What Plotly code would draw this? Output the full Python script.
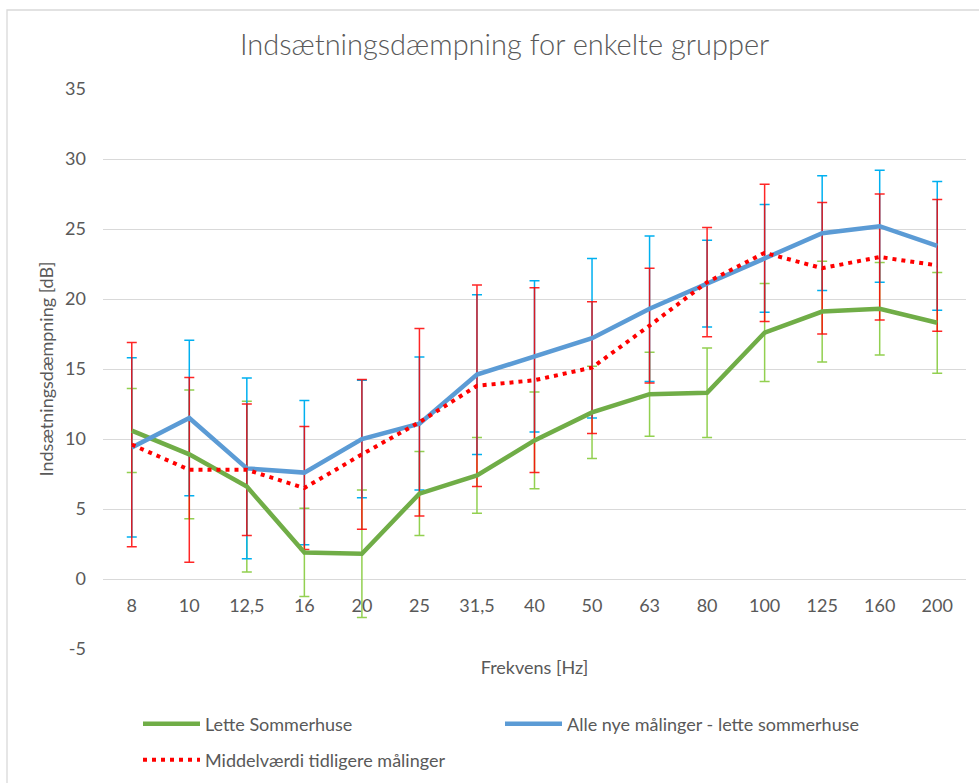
import plotly.graph_objects as go

# Frequency bands (category labels on the x axis)
freq_labels = ["8", "10", "12,5", "16", "20", "25", "31,5", "40", "50", "63",
               "80", "100", "125", "160", "200"]

# Lette Sommerhuse: mean insertion loss [dB] and +/- spread
lette_mean = [10.6, 8.9, 6.6, 1.9, 1.8, 6.1, 7.4, 9.9, 11.9, 13.2,
              13.3, 17.6, 19.1, 19.3, 18.3]
lette_err = [3.0, 4.6, 6.1, 3.15, 4.55, 3.0, 2.7, 3.45, 3.3, 3.0,
             3.2, 3.5, 3.6, 3.3, 3.6]

# Alle nye målinger - lette sommerhuse
alle_mean = [9.4, 11.5, 7.9, 7.6, 10.0, 11.1, 14.6, 15.9, 17.2, 19.3,
             21.1, 22.9, 24.7, 25.2, 23.8]
alle_err = [6.4, 5.55, 6.45, 5.15, 4.2, 4.75, 5.7, 5.4, 5.7, 5.2,
            3.1, 3.85, 4.1, 4.0, 4.6]

# Middelværdi tidligere målinger
tidl_mean = [9.6, 7.8, 7.8, 6.5, 8.9, 11.2, 13.8, 14.2, 15.1, 18.1,
             21.2, 23.3, 22.2, 23.0, 22.4]
tidl_err = [7.3, 6.6, 4.7, 4.4, 5.35, 6.7, 7.2, 6.6, 4.7, 4.1,
            3.9, 4.9, 4.7, 4.5, 4.7]

y_ticks = [-5, 0, 5, 10, 15, 20, 25, 30, 35]
y_tick_text = [str(v) for v in y_ticks]

TEXT = "#595959"
GRID = "#D9D9D9"
FONT = "Lato"
FS = 18

fig = go.Figure()

# Error bars first so the series lines sit on top of them
for mean, err, col in [(lette_mean, lette_err, "#92D050"),
                       (alle_mean, alle_err, "#00B0F0"),
                       (tidl_mean, tidl_err, "rgba(255,0,0,0.85)")]:
    fig.add_trace(go.Scatter(
        x=freq_labels, y=mean, mode="markers",
        marker=dict(size=1, opacity=0),
        error_y=dict(type="data", array=err, visible=True,
                     color=col, thickness=1.5, width=5),
        showlegend=False, hoverinfo="skip"))

fig.add_trace(go.Scatter(
    x=freq_labels, y=lette_mean, mode="lines", name="Lette Sommerhuse",
    line=dict(color="#70AD47", width=4.5), legend="legend"))
fig.add_trace(go.Scatter(
    x=freq_labels, y=alle_mean, mode="lines",
    name="Alle nye målinger - lette sommerhuse",
    line=dict(color="#5B9BD5", width=4.5), legend="legend"))
fig.add_trace(go.Scatter(
    x=freq_labels, y=tidl_mean, mode="lines",
    name="Middelværdi tidligere målinger",
    line=dict(color="#FF0000", width=4, dash="4px,5px"), legend="legend2"))

legend_common = dict(
    orientation="h", font=dict(family=FONT, size=FS, color=TEXT),
    bgcolor="rgba(0,0,0,0)", itemwidth=57, entrywidth=290,
    entrywidthmode="pixels", xanchor="left", yanchor="middle",
    tracegroupgap=0)

fig.update_layout(
    width=979, height=783,
    margin=dict(l=103, r=13, t=89, b=134, autoexpand=False),
    paper_bgcolor="white", plot_bgcolor="white",
    font=dict(family=FONT, size=FS, color=TEXT),
    title=dict(text="Indsætningsdæmpning for enkelte grupper",
               x=0.5155, xanchor="center", y=1 - 45 / 783, yanchor="middle",
               yref="container",
               font=dict(family=FONT, size=29, color=TEXT, weight=300)),
    xaxis=dict(type="category", showgrid=False, showline=False,
               ticks="", anchor="free", position=69 / 560,
               ticklabelstandoff=13,
               range=[-0.5, len(freq_labels) - 0.5],
               tickfont=dict(family=FONT, size=FS, color=TEXT),
               title=dict(text="Frekvens [Hz]", standoff=46,
                          font=dict(family=FONT, size=FS, color=TEXT))),
    yaxis=dict(range=[-5, 35], tickvals=y_ticks, ticktext=y_tick_text,
               showgrid=True,
               gridcolor=GRID, gridwidth=1, zeroline=False, showline=False,
               ticks="", ticklabelstandoff=16,
               tickfont=dict(family=FONT, size=FS, color=TEXT),
               title=dict(text="Indsætningsdæmpning [dB]", standoff=6,
                          font=dict(family=FONT, size=FS, color=TEXT))),
    legend=dict(x=35 / 863, y=(649 - 724) / 560, **legend_common),
    legend2=dict(x=35 / 863, y=(649 - 760) / 560, **legend_common),
    shapes=[dict(type="rect", xref="paper", yref="paper",
                 x0=-96 / 863, x1=1.05, y0=-0.25, y1=(649 - 10) / 560,
                 line=dict(color=GRID, width=1.3), layer="below")],
)

fig.write_html("out.html")
